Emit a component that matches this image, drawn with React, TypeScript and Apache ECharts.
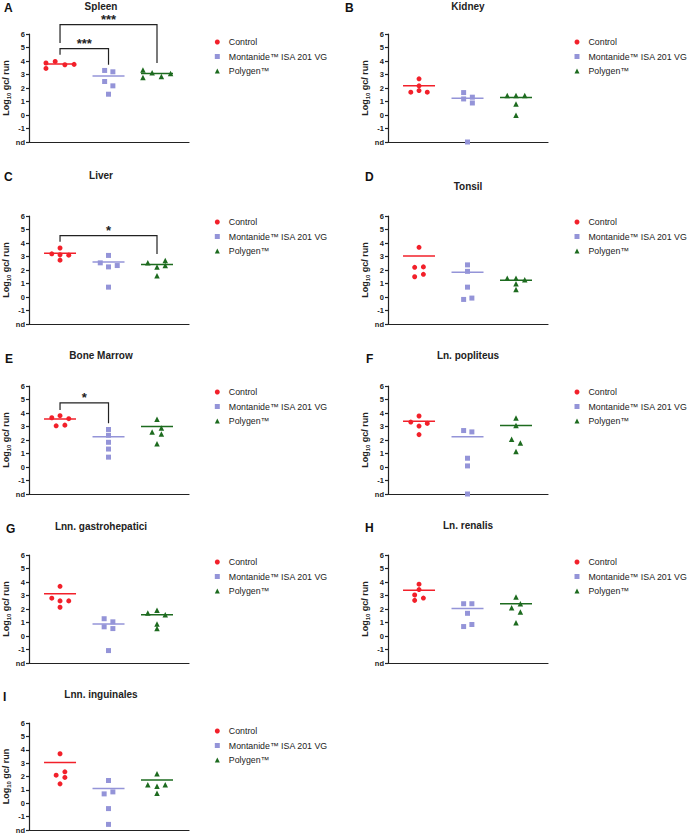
import React, { useEffect, useRef } from 'react';
import * as echarts from 'echarts';

const groups = ['Control', 'Montanide™ ISA 201 VG', 'Polygen™'];
const groupColors = ['#f2202a', '#9494d8', '#1d6b1f'];
const groupSymbols = ['circle', 'rect', 'triangle'];
const groupSymbolSizes = [5, 5, 5.5];
const panelLetters = ['A', 'B', 'C', 'D', 'E', 'F', 'G', 'H', 'I'];
const panelTitles = ['Spleen', 'Kidney', 'Liver', 'Tonsil', 'Bone Marrow', 'Ln. popliteus', 'Lnn. gastrohepatici', 'Ln. renalis', 'Lnn. inguinales'];
const yMin = -2;
const yMax = 6;
const ndLabel = 'nd';

// log10 gc / run, per group [Control, Montanide, Polygen]
const spleenValues = [[3.85, 3.45, 3.97, 3.72, 3.75], [3.30, 3.20, 2.48, 2.16, 1.54], [3.33, 2.78, 3.13, 2.85, 3.08]];
const spleenLines = [3.77, 2.88, 3.08];
const kidneyValues = [[2.68, 2.16, 1.69, 1.81, 1.69], [1.66, 1.19, 1.32, 0.89, -2], [1.44, 1.44, 1.44, 0.82, -0.02]];
const kidneyLines = [2.16, 1.24, 1.29];
const liverValues = [[3.63, 3.2, 3.13, 3.1, 2.73], [3.08, 2.53, 2.23, 2.33, 0.73], [2.53, 2.7, 2.33, 2.23, 1.58]];
const liverLines = [3.25, 2.6, 2.4];
const tonsilValues = [[3.68, 2.2, 2.23, 1.5, 1.68], [2.38, 1.9, 0.73, -0.18, -0.08], [1.38, 1.38, 1.28, 0.98, 0.55]];
const tonsilLines = [3.03, 1.83, 1.25];
const boneMarrowValues = [[3.65, 3.8, 3.58, 3.05, 3.1], [2.78, 2.35, 1.83, 1.33, 0.73], [3.53, 2.88, 2.6, 2.45, 1.73]];
const boneMarrowLines = [3.55, 2.25, 3.0];
const popliteusValues = [[3.78, 3.33, 3.23, 3.03, 2.4], [2.7, 2.6, 0.65, 0.08, -2], [3.63, 3.08, 2.05, 1.78, 1.15]];
const popliteusLines = [3.38, 2.25, 3.08];
const gastrohepaticiValues = [[3.68, 2.8, 2.6, 2.6, 2.13], [1.28, 1.05, 0.68, 0.55, -1.08], [1.7, 1.9, 1.58, 0.88, 0.55]];
const gastrohepaticiLines = [3.13, 0.88, 1.58];
const renalisValues = [[3.84, 3.44, 3.04, 2.81, 2.64], [2.39, 2.39, 1.68, 0.7, 0.85], [2.89, 2.09, 2.39, 1.78, 0.98]];
const renalisLines = [3.39, 2.03, 2.39];
const inguinalesValues = [[3.7, 2.35, 2.1, 1.93, 1.45], [1.7, 0.7, 0.85, -0.4, -1.58], [2.2, 1.38, 1.28, 1.38, 0.75]];
const inguinalesLines = [3.05, 1.1, 1.73];

// horizontal spread of the dots around each group (layout only)
const spleenSpread = [[-0.29, -0.29, -0.1, 0.1, 0.29], [-0.08, 0.09, -0.08, 0.09, 0], [-0.29, -0.29, -0.1, 0.09, 0.28]];
const kidneySpread = [[0, 0, -0.17, 0, 0.17], [-0.08, -0.08, 0.1, 0.1, 0], [-0.18, 0, 0.18, 0, 0]];
const liverSpread = [[0, -0.17, 0, 0.18, 0], [0, -0.17, 0, 0.18, 0], [-0.19, 0.17, 0.17, 0, 0]];
const tonsilSpread = [[0, -0.09, 0.09, -0.09, 0.09], [0, 0, 0, -0.08, 0.09], [-0.18, 0, 0.18, 0, 0]];
const boneMarrowSpread = [[-0.17, 0, 0.18, -0.08, 0.1], [0, 0, 0, 0, 0], [0, 0.09, -0.1, 0.09, 0]];
const popliteusSpread = [[0, -0.17, 0.17, 0, 0], [-0.08, 0.09, 0, 0, 0], [0, 0, -0.09, 0.09, 0]];
const gastrohepaticiSpread = [[0, -0.17, 0, 0.18, 0], [-0.09, 0.09, -0.09, 0.09, 0], [-0.19, 0, 0.17, 0, 0]];
const renalisSpread = [[0, 0, -0.09, 0.09, -0.09], [-0.08, 0.09, 0, -0.08, 0.09], [0, -0.09, 0.09, 0.09, 0]];
const inguinalesSpread = [[0, 0.1, -0.08, 0.1, 0], [0, -0.09, 0.09, 0, 0], [0, -0.19, 0, 0.17, 0]];

// significance brackets: groups joined, label
const spleenSignif = [{ a: 0, b: 1, label: '***' }, { a: 0, b: 2, label: '***' }];
const liverSignif = [{ a: 0, b: 2, label: '*' }];
const boneMarrowSignif = [{ a: 0, b: 1, label: '*' }];
// bracket geometry (layout): top, left leg end, right leg end, label y
const spleenBracketLayout = [[4.91, 4.47, 3.72, 5.3], [6.7, 5.33, 3.85, 7.05]];
const liverBracketLayout = [[4.55, 4.1, 3.18, 4.95]];
const boneMarrowBracketLayout = [[4.75, 4.23, 3.25, 5.15]];

const panelValues = [spleenValues, kidneyValues, liverValues, tonsilValues, boneMarrowValues, popliteusValues, gastrohepaticiValues, renalisValues, inguinalesValues];
const panelLines = [spleenLines, kidneyLines, liverLines, tonsilLines, boneMarrowLines, popliteusLines, gastrohepaticiLines, renalisLines, inguinalesLines];
const panelSpread = [spleenSpread, kidneySpread, liverSpread, tonsilSpread, boneMarrowSpread, popliteusSpread, gastrohepaticiSpread, renalisSpread, inguinalesSpread];
const panelSignif: any[] = [spleenSignif, [], liverSignif, [], boneMarrowSignif, [], [], [], []];
const panelBracketLayout: any[] = [spleenBracketLayout, [], liverBracketLayout, [], boneMarrowBracketLayout, [], [], [], []];

const FONT = '"Liberation Sans", Arial, Helvetica, sans-serif';
const INK = '#222222';

const gridTops = [34, 34, 216, 216, 386, 386, 555, 555, 723];
const legendTops = [37.5, 37.5, 217.5, 217.5, 387.5, 387.5, 557.5, 557.5, 726.5];
const colLeft = [29, 388];
const gridWidth = 160;
const gridHeight = 108;
const legendLeft = [214.8, 574.5];
const titleCenterX = [101, 468];
const titleY = [6.5, 6.5, 175, 186, 355.5, 355, 526, 525.5, 694];
const letterPos = [[4, 7.5], [345, 7.5], [4, 176.5], [365, 176.5], [5, 359], [366, 359], [6, 529], [365, 528], [3, 697]];

export default function App() {
  const ref = useRef<HTMLDivElement>(null);
  useEffect(() => {
    document.body.style.margin = '0';
    const chart = echarts.init(ref.current!, null, { renderer: 'svg' });
    const grid: any[] = [];
    const xAxis: any[] = [];
    const yAxis: any[] = [];
    const legend: any[] = [];
    const series: any[] = [];
    const graphic: any[] = [];

    for (let p = 0; p < 9; p++) {
      const col = p % 2;
      grid.push({ left: colLeft[col], top: gridTops[p], width: gridWidth, height: gridHeight });
      xAxis.push({
        type: 'value', gridIndex: p, min: 0.36, max: 3.66,
        axisLine: { show: true, onZero: false, lineStyle: { color: INK, width: 1.2 } },
        axisTick: { show: false }, axisLabel: { show: false }, splitLine: { show: false },
      });
      yAxis.push({
        type: 'value', gridIndex: p, min: yMin, max: yMax, interval: 1,
        axisLine: { show: true, onZero: false, lineStyle: { color: INK, width: 1.2 } },
        axisTick: { show: true, length: 3, lineStyle: { color: INK, width: 1.2 } },
        splitLine: { show: false },
        axisLabel: {
          fontSize: 7.5, fontWeight: 'bold', color: INK, fontFamily: FONT, margin: 4,
          formatter: (v: number) => (v === yMin ? ndLabel : String(v)),
        },
        name: '{a|Log}{s|10}{a| gc/ run}', nameLocation: 'middle', nameGap: 17,
        nameTextStyle: {
          color: INK,
          rich: {
            a: { fontSize: 9, fontWeight: 'bold', fontFamily: FONT, color: INK },
            s: { fontSize: 6, fontWeight: 'bold', fontFamily: FONT, color: INK, padding: [5, 0, 0, 0] },
          },
        },
      });
      legend.push({
        orient: 'vertical', left: legendLeft[col], top: legendTops[p], padding: 0,
        itemWidth: 5, itemHeight: 5, itemGap: 5.5,
        textStyle: { fontSize: 8.8, fontFamily: FONT, color: INK, padding: [0, 0, 0, 4] },
        data: groups.map((g, i) => ({ name: g, icon: groupSymbols[i] })),
        selectedMode: false,
      });
      for (let g = 0; g < 3; g++) {
        series.push({
          type: 'scatter', name: groups[g], xAxisIndex: p, yAxisIndex: p,
          symbol: groupSymbols[g], symbolSize: groupSymbolSizes[g],
          itemStyle: { color: groupColors[g], opacity: 1 },
          data: panelValues[p][g].map((v, k) => [g + 1 + panelSpread[p][g][k], v]),
          clip: false, silent: true,
        });
      }
      for (let g = 0; g < 3; g++) {
        series.push({
          type: 'line', name: groups[g], xAxisIndex: p, yAxisIndex: p,
          symbol: 'none', color: groupColors[g],
          lineStyle: { color: groupColors[g], width: 1.5 },
          data: [[g + 1 - 0.33, panelLines[p][g]], [g + 1 + 0.33, panelLines[p][g]]],
          silent: true, z: 1,
        });
      }
      const sig = panelSignif[p];
      if (sig.length) {
        const lay = panelBracketLayout[p];
        series.push({
          type: 'custom', xAxisIndex: p, yAxisIndex: p, silent: true, clip: false,
          data: sig.map((s: any, i: number) => [s.a + 1, lay[i][0], i]),
          renderItem: (params: any, api: any) => {
            const i = api.value(2);
            const s = sig[i];
            const l = lay[i];
            const pA = api.coord([s.a + 1, l[1]]);
            const pAt = api.coord([s.a + 1, l[0]]);
            const pBt = api.coord([s.b + 1, l[0]]);
            const pB = api.coord([s.b + 1, l[2]]);
            const pL = api.coord([(s.a + s.b) / 2 + 1, l[3]]);
            return {
              type: 'group',
              children: [
                { type: 'polyline', shape: { points: [pA, pAt, pBt, pB] }, style: { stroke: INK, lineWidth: 1.2, fill: null } },
                {
                  type: 'text', x: pL[0], y: pL[1],
                  style: { text: s.label, align: 'center', verticalAlign: 'middle', fontSize: 13, fontWeight: 'bold', fontFamily: FONT, fill: INK },
                },
              ],
            };
          },
        });
      }
      graphic.push({
        type: 'text', x: titleCenterX[col], y: titleY[p],
        style: { text: panelTitles[p], align: 'center', verticalAlign: 'middle', fontSize: 10, fontWeight: 'bold', fontFamily: FONT, fill: INK },
      });
      graphic.push({
        type: 'text', x: letterPos[p][0], y: letterPos[p][1],
        style: { text: panelLetters[p], align: 'left', verticalAlign: 'middle', fontSize: 12, fontWeight: 'bold', fontFamily: FONT, fill: '#111' },
      });
    }

    chart.setOption({ animation: false, backgroundColor: '#ffffff', grid, xAxis, yAxis, legend, series, graphic });
    return () => chart.dispose();
  }, []);
  return <div ref={ref} style={{ width: 687, height: 834 }} />;
}
